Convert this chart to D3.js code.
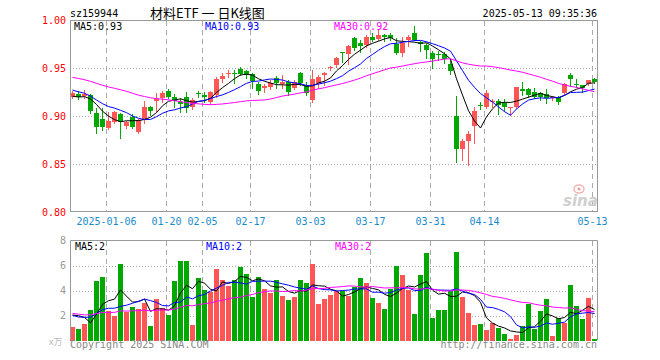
<!DOCTYPE html>
<html><head><meta charset="utf-8">
<script src="https://cdn.jsdelivr.net/npm/d3@7"></script>
<style>html,body{margin:0;padding:0;background:#fff}svg{display:block}</style>
</head><body>
<svg id="c" width="660" height="360"></svg>
<script>
// ---------- data ----------
const dates = ["2024-12-26","2024-12-27","2024-12-30","2024-12-31","2025-01-02","2025-01-03",
"2025-01-06","2025-01-07","2025-01-08","2025-01-09","2025-01-10","2025-01-13","2025-01-14","2025-01-15","2025-01-16","2025-01-17",
"2025-01-20","2025-01-21","2025-01-22","2025-01-23","2025-01-24","2025-01-27","2025-02-05","2025-02-06","2025-02-07",
"2025-02-10","2025-02-11","2025-02-12","2025-02-13","2025-02-14","2025-02-17","2025-02-18","2025-02-19","2025-02-20","2025-02-21",
"2025-02-24","2025-02-25","2025-02-26","2025-02-27","2025-02-28","2025-03-03","2025-03-04","2025-03-05","2025-03-06","2025-03-07",
"2025-03-10","2025-03-11","2025-03-12","2025-03-13","2025-03-14","2025-03-17","2025-03-18","2025-03-19","2025-03-20","2025-03-21",
"2025-03-24","2025-03-25","2025-03-26","2025-03-27","2025-03-28","2025-03-31","2025-04-01","2025-04-02","2025-04-03",
"2025-04-07","2025-04-08","2025-04-09","2025-04-10","2025-04-11","2025-04-14","2025-04-15","2025-04-16","2025-04-17","2025-04-18",
"2025-04-21","2025-04-22","2025-04-23","2025-04-24","2025-04-25","2025-04-28","2025-04-29","2025-04-30",
"2025-05-06","2025-05-07","2025-05-08","2025-05-09","2025-05-12","2025-05-13"];

const open = [0.9205,0.9233,0.921,0.9222,0.903,0.897,0.888,0.894,0.9024,0.890,
0.899,0.884,0.896,0.910,0.9156,0.919,0.9267,0.920,0.9153,0.920,
0.910,0.924,0.9222,0.915,0.9222,0.939,0.944,0.9455,0.949,0.947,
0.944,0.9336,0.930,0.931,0.9396,0.9336,0.9357,0.930,0.9448,0.9326,
0.917,0.935,0.9431,0.950,0.9535,0.9667,0.965,0.9813,0.9767,0.9743,
0.9823,0.9806,0.9847,0.9847,0.9753,0.9656,0.980,0.9872,0.9778,0.9743,
0.9656,0.9646,0.9646,0.9542,0.9003,0.8656,0.8743,0.8899,0.9118,0.910,
0.9146,0.9156,0.9135,0.9083,0.910,0.9281,0.9281,0.9257,0.924,0.9229,
0.919,0.9205,0.9246,0.943,0.9337,0.9327,0.9337,0.9385];
const high = [0.9267,0.926,0.927,0.923,0.909,0.909,0.9045,0.905,0.9035,0.895,
0.902,0.897,0.916,0.911,0.924,0.926,0.9285,0.923,0.9188,0.925,
0.919,0.9265,0.9257,0.926,0.9413,0.9455,0.948,0.948,0.9515,0.948,
0.945,0.936,0.9336,0.9378,0.942,0.943,0.9378,0.9378,0.9465,0.936,
0.948,0.943,0.9458,0.953,0.962,0.9674,0.9743,0.9823,0.980,0.9847,
0.9865,0.9906,0.9858,0.987,0.9813,0.983,0.9847,0.994,0.979,0.9767,
0.9684,0.9684,0.9674,0.9587,0.9212,0.876,0.885,0.910,0.9153,0.9274,
0.9177,0.9177,0.9177,0.910,0.9309,0.9361,0.9292,0.9292,0.9257,0.9281,
0.9212,0.9215,0.9344,0.9448,0.9385,0.9327,0.9378,0.9396];
const low = [0.919,0.918,0.919,0.903,0.883,0.886,0.887,0.893,0.8778,0.8875,
0.888,0.883,0.893,0.901,0.905,0.9146,0.919,0.910,0.904,0.904,
0.908,0.9205,0.9153,0.913,0.920,0.936,0.941,0.935,0.943,0.9395,
0.929,0.923,0.9257,0.928,0.929,0.929,0.922,0.928,0.933,0.922,
0.915,0.929,0.933,0.948,0.9517,0.957,0.9545,0.969,0.9674,0.9726,
0.979,0.9795,0.979,0.9795,0.965,0.9628,0.9733,0.9795,0.968,0.9604,
0.950,0.9587,0.956,0.944,0.8517,0.8545,0.8493,0.8725,0.9073,0.9083,
0.910,0.902,0.9059,0.9014,0.9083,0.922,0.9205,0.9187,0.917,0.9142,
0.917,0.9128,0.9222,0.9316,0.931,0.925,0.9327,0.935];
const close = [0.924,0.9205,0.923,0.905,0.889,0.889,0.895,0.9045,0.894,0.894,
0.889,0.896,0.910,0.906,0.9177,0.9247,0.920,0.916,0.9125,0.9083,
0.917,0.9235,0.920,0.925,0.9389,0.942,0.9455,0.945,0.944,0.943,
0.937,0.9267,0.932,0.935,0.9343,0.936,0.9253,0.936,0.9343,0.9246,
0.9385,0.9406,0.9448,0.9517,0.9611,0.966,0.9733,0.9715,0.9736,0.983,
0.9795,0.9847,0.983,0.9813,0.9656,0.9767,0.983,0.980,0.9753,0.969,
0.9594,0.9635,0.9594,0.9476,0.8656,0.8746,0.8816,0.9059,0.9108,0.924,
0.9163,0.9118,0.910,0.910,0.9309,0.9267,0.9222,0.9205,0.9198,0.9194,
0.9205,0.9153,0.9337,0.9389,0.9327,0.9292,0.9378,0.936];
const volume = [1.09,0.9,1.3,2.43,4.75,5.07,2.35,1.95,6.1,2.27,
2.67,2.55,3.0,1.15,3.33,2.6,2.03,4.75,6.35,6.35,
1.23,5.0,4.03,3.87,5.7,4.85,4.35,4.85,5.87,5.33,
3.5,5.07,4.13,3.81,4.85,3.57,3.25,3.47,4.85,4.59,
6.1,2.9,3.3,3.63,3.95,3.97,3.55,4.3,5.0,4.59,
3.39,3.0,2.5,4.1,5.95,5.23,4.03,2.1,5.23,7.0,
1.8,2.43,2.43,3.97,7.08,3.47,2.19,1.23,1.31,0.83,
1.39,0.99,0.51,0.11,0.43,1.15,2.9,0.91,2.35,3.31,
0.35,1.79,1.39,4.43,2.75,1.71,3.39,0.11];
// sessions before the visible window (only feed the moving averages)
const prevClose = [0.955,0.960,0.958,0.952,0.948,0.950,0.945,0.940,0.943,0.950,
0.955,0.952,0.947,0.944,0.940,0.942,0.945,0.940,0.938,0.940,
0.940,0.937,0.935,0.930,0.927,0.925,0.921,0.917,0.918];
const prevVolume = [2.5,3.1,2.2,1.9,2.6,2.0,1.8,2.4,2.9,2.1,
1.7,2.3,2.6,1.9,2.0,2.2,2.5,1.8,2.1,2.2,
2.1,1.6,2.3,1.85,2.0,1.18,1.97,4.6,1.35];

const priceTicks = [1.00,0.95,0.90,0.85,0.80];
const volTicks = [8,6,4,2];
const tickDates = ["2025-01-06","2025-01-20","2025-02-05","2025-02-17","2025-03-03","2025-03-17","2025-03-31","2025-04-14","2025-05-13"];
const tickLabels = ["2025-01-06","01-20","02-05","02-17","03-03","03-17","03-31","04-14","05-13"];
const priceMaLabels = ["MA5:0.93","MA10:0.93","MA30:0.92"];
const volMaLabels = ["MA5:2","MA10:2","MA30:2"];
const maPeriods = [5,10,30];

// ---------- drawing ----------
const svg = d3.select("#c");
const UP = "#ff5555", DOWN = "#00a800";
const maColors = ["#000000","#0000ff","#ff00ff"];
const mono = "'DejaVu Sans Mono', monospace";

const x = d3.scaleBand().domain(dates).range([69.5, 597.5]).paddingInner(1/6).paddingOuter(1/12);
const bw = x.bandwidth();
const yP = d3.scaleLinear().domain([0.80, 1.00]).range([212, 20.5]);
const yV = d3.scaleLinear().domain([0, 8]).range([340.5, 240.5]);

function movingAvg(prev, arr, p) {
  const all = prev.concat(arr), off = prev.length;
  return arr.map((_, i) => d3.mean(all.slice(off + i - p + 1, off + i + 1)));
}

svg.append("rect").attr("width",660).attr("height",360).attr("fill","#fff");

// grid lines
const g = svg.append("g");
g.selectAll(".hp").data(priceTicks.filter(v => v > 0.8 && v < 1.0)).join("line")
  .attr("x1",70).attr("x2",597).attr("y1",d=>Math.round(yP(d))+0.5).attr("y2",d=>Math.round(yP(d))+0.5)
  .attr("stroke","#aaa").attr("stroke-dasharray","1,2");
g.selectAll(".hv").data(volTicks.filter(v => v < 8)).join("line")
  .attr("x1",70).attr("x2",597).attr("y1",d=>Math.round(yV(d))+0.5).attr("y2",d=>Math.round(yV(d))+0.5)
  .attr("stroke","#aaa").attr("stroke-dasharray","1,2");
tickDates.forEach(d => {
  const xx = x(d) + 0.5;
  [[21,211],[241,340]].forEach(([a,b]) => {
    g.append("line").attr("x1",xx).attr("x2",xx).attr("y1",a).attr("y2",b)
      .attr("stroke","#aaa").attr("stroke-dasharray","5,4");
  });
});

// sina watermark
const wm = svg.append("g");
wm.append("text").attr("x",563).attr("y",206).attr("font-family","'DejaVu Sans', sans-serif")
  .attr("font-size",15).attr("font-weight","bold").attr("font-style","italic").attr("fill","#cfcfcf").text("sina");
wm.append("ellipse").attr("cx",579).attr("cy",189).attr("rx",5).attr("ry",4).attr("fill","none").attr("stroke","#f2b6b6").attr("stroke-width",1.5);
wm.append("circle").attr("cx",579).attr("cy",189).attr("r",1.6).attr("fill","#e8a0a0");

// candles
const cg = svg.append("g");
dates.forEach((d, i) => {
  const up = close[i] >= open[i];
  const col = up ? UP : DOWN;
  const cx = x(d) + bw / 2;
  cg.append("line").attr("x1",cx).attr("x2",cx)
    .attr("y1",Math.round(yP(high[i]))).attr("y2",Math.round(yP(low[i])) + 1)
    .attr("stroke",col).attr("stroke-width",1);
  const top = Math.round(yP(Math.max(open[i], close[i])));
  const bot = Math.round(yP(Math.min(open[i], close[i])));
  cg.append("rect").attr("x",x(d)).attr("width",bw).attr("y",top).attr("height",Math.max(1, bot - top))
    .attr("fill",col);
});

// price MAs
maPeriods.forEach((p, k) => {
  const ma = movingAvg(prevClose, close, p);
  svg.append("path").datum(ma)
    .attr("d", d3.line().x((v,i)=>x(dates[i]) + bw/2).y(v=>yP(v)))
    .attr("fill","none").attr("stroke",maColors[k]).attr("stroke-width",1);
});

// volume bars
const vg = svg.append("g");
const vBase = Math.round(yV(0));
dates.forEach((d, i) => {
  const col = close[i] >= open[i] ? UP : DOWN;
  const t = Math.round(yV(volume[i]));
  vg.append("rect").attr("x",x(d)).attr("width",bw).attr("y",t).attr("height",Math.max(1, vBase - t)).attr("fill",col);
});
maPeriods.forEach((p, k) => {
  const ma = movingAvg(prevVolume, volume, p);
  svg.append("path").datum(ma)
    .attr("d", d3.line().x((v,i)=>x(dates[i]) + bw/2).y(v=>yV(v)))
    .attr("fill","none").attr("stroke",maColors[k]).attr("stroke-width",1);
});

// frames
svg.append("rect").attr("x",70.5).attr("y",20.5).attr("width",527).attr("height",191)
  .attr("fill","none").attr("stroke","#999");
svg.append("path").attr("d","M70.5,340V240.5H597.5V340").attr("fill","none").attr("stroke","#999");

// axis labels
svg.selectAll(".pl").data(priceTicks).join("text")
  .attr("x",66).attr("y",d=>yP(d)+3.5).attr("text-anchor","end")
  .attr("font-family",mono).attr("font-size",10).attr("fill","#ff0000").text(d=>d.toFixed(2));
svg.selectAll(".vl").data(volTicks).join("text")
  .attr("x",66).attr("y",d=>yV(d)+3.5).attr("text-anchor","end")
  .attr("font-family",mono).attr("font-size",10).attr("fill","#999").text(d=>d);
svg.selectAll(".dl").data(tickDates).join("text")
  .attr("x",d=>x(d)+0.5).attr("y",225).attr("text-anchor","middle")
  .attr("font-family",mono).attr("font-size",10).attr("fill","#1a8ccc").text((d,i)=>tickLabels[i]);
svg.append("text").attr("x",49).attr("y",345).attr("font-family","'Noto Sans CJK SC', sans-serif")
  .attr("font-size",9).attr("fill","#bbb").text("x万");

// MA labels
const maX = [74, 205, 334];
priceMaLabels.forEach((t,k) => svg.append("text").attr("x",maX[k]).attr("y",30)
  .attr("font-family",mono).attr("font-size",10).attr("fill",maColors[k]).text(t));
volMaLabels.forEach((t,k) => svg.append("text").attr("x",maX[k]+1).attr("y",250)
  .attr("font-family",mono).attr("font-size",10).attr("fill",maColors[k]).text(t));

// titles
svg.append("text").attr("x",70).attr("y",17).attr("font-family",mono).attr("font-size",10).attr("fill","#000").text("sz159944");
svg.append("text").attr("x",150).attr("y",17.5).attr("font-family","'Noto Sans CJK SC', sans-serif").attr("font-size",13).attr("fill","#000").text("材料ETF 一 日K线图");
svg.append("text").attr("x",597).attr("y",17).attr("text-anchor","end").attr("font-family",mono).attr("font-size",10).attr("fill","#000").text("2025-05-13 09:35:36");
svg.append("text").attr("x",70).attr("y",348).attr("font-family",mono).attr("font-size",10).attr("fill","#888").text("Copyright 2025 SINA.COM");
svg.append("text").attr("x",597).attr("y",348).attr("text-anchor","end").attr("font-family",mono).attr("font-size",10).attr("fill","#888").text("http://finance.sina.com.cn");
</script>
</body></html>
